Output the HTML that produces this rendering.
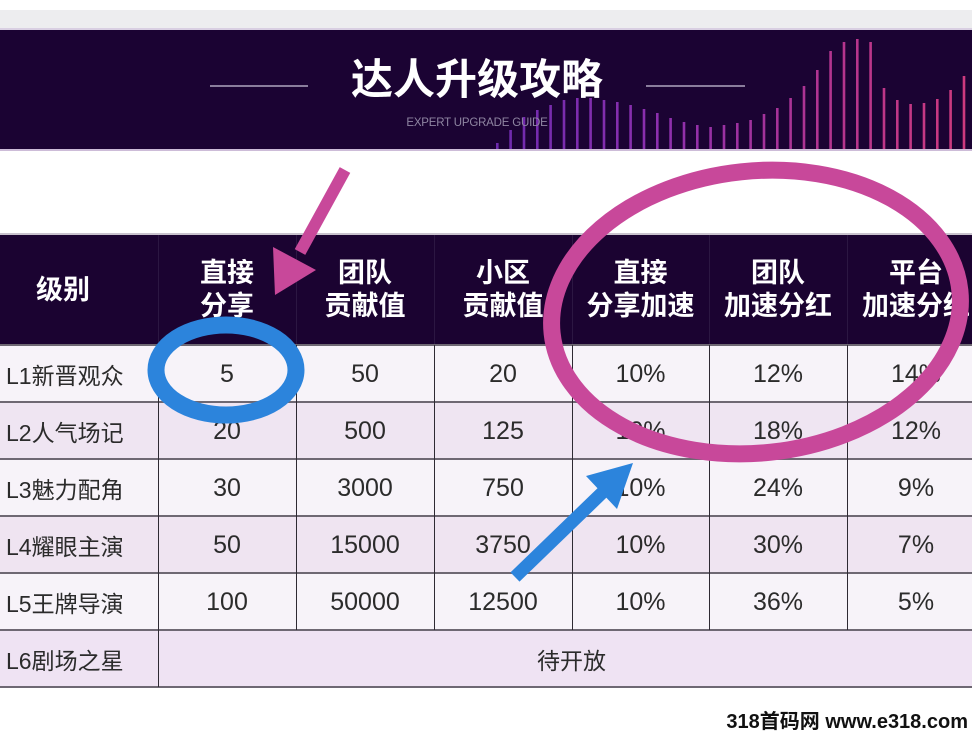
<!DOCTYPE html>
<html>
<head>
<meta charset="utf-8">
<style>
  html,body{margin:0;padding:0;}
  body{width:972px;height:739px;overflow:hidden;background:#ffffff;position:relative;
       font-family:"Liberation Sans","Noto Sans CJK SC",sans-serif;}
  .abs{position:absolute;}
  .cell{position:absolute;display:flex;align-items:center;justify-content:center;
        color:#2b2b2b;font-size:25px;}
  .lvl{position:absolute;display:flex;align-items:center;justify-content:flex-start;
       color:#2b2b2b;font-size:23px;padding-left:6px;box-sizing:border-box;}
  .hd{position:absolute;display:flex;flex-direction:column;align-items:center;justify-content:center;
      color:#ffffff;font-weight:bold;font-size:27px;line-height:33px;white-space:nowrap;
      font-family:"Liberation Sans","Noto Sans CJK SC",sans-serif;}
  .hl{position:absolute;left:0;width:972px;height:2px;background:#6e6873;}
  .vl{position:absolute;width:1px;background:#2e2a33;}
</style>
</head>
<body>

<!-- top gray band -->
<div class="abs" style="left:0;top:10px;width:972px;height:18px;background:#ededef;"></div>
<div class="abs" style="left:0;top:28px;width:972px;height:2px;background:#d9cfe2;"></div>
<!-- banner -->
<div class="abs" style="left:0;top:30px;width:972px;height:119px;background:#1b0333;"></div>
<div class="abs" style="left:0;top:149px;width:972px;height:2px;background:#cdbcd8;"></div>

<!-- bars -->
<svg class="abs" style="left:0;top:0;" width="972" height="151" viewBox="0 0 972 151">
  <defs>
    <linearGradient id="bg" x1="497" y1="0" x2="972" y2="0" gradientUnits="userSpaceOnUse">
      <stop offset="0" stop-color="#6e2aae"/>
      <stop offset="0.35" stop-color="#8d2fae"/>
      <stop offset="0.7" stop-color="#b3348f"/>
      <stop offset="1" stop-color="#cf3a7e"/>
    </linearGradient>
  </defs>
  <g fill="url(#bg)">
    <rect x="496" y="143" width="2.6" height="6"/>
    <rect x="509.3" y="130" width="2.6" height="19"/>
    <rect x="522.7" y="117" width="2.6" height="32"/>
    <rect x="536" y="110" width="2.6" height="39"/>
    <rect x="549.3" y="105" width="2.6" height="44"/>
    <rect x="562.7" y="100" width="2.6" height="49"/>
    <rect x="576" y="98" width="2.6" height="51"/>
    <rect x="589.3" y="98" width="2.6" height="51"/>
    <rect x="602.7" y="100" width="2.6" height="49"/>
    <rect x="616" y="102" width="2.6" height="47"/>
    <rect x="629.3" y="105" width="2.6" height="44"/>
    <rect x="642.7" y="109" width="2.6" height="40"/>
    <rect x="656" y="113" width="2.6" height="36"/>
    <rect x="669.3" y="118" width="2.6" height="31"/>
    <rect x="682.7" y="122" width="2.6" height="27"/>
    <rect x="696" y="125" width="2.6" height="24"/>
    <rect x="709.3" y="127" width="2.6" height="22"/>
    <rect x="722.7" y="125" width="2.6" height="24"/>
    <rect x="736" y="123" width="2.6" height="26"/>
    <rect x="749.3" y="120" width="2.6" height="29"/>
    <rect x="762.7" y="114" width="2.6" height="35"/>
    <rect x="776" y="108" width="2.6" height="41"/>
    <rect x="789.3" y="98" width="2.6" height="51"/>
    <rect x="802.7" y="86" width="2.6" height="63"/>
    <rect x="816" y="70" width="2.6" height="79"/>
    <rect x="829.3" y="51" width="2.6" height="98"/>
    <rect x="842.7" y="42" width="2.6" height="107"/>
    <rect x="856" y="39" width="2.6" height="110"/>
    <rect x="869.3" y="42" width="2.6" height="107"/>
    <rect x="882.7" y="88" width="2.6" height="61"/>
    <rect x="896" y="100" width="2.6" height="49"/>
    <rect x="909.3" y="104" width="2.6" height="45"/>
    <rect x="922.7" y="103" width="2.6" height="46"/>
    <rect x="936" y="99" width="2.6" height="50"/>
    <rect x="949.3" y="90" width="2.6" height="59"/>
    <rect x="962.7" y="76" width="2.6" height="73"/>
  </g>
  <!-- side lines -->
  <rect x="210" y="85" width="98" height="2" fill="#8a7d9c"/>
  <rect x="646" y="85" width="99" height="2" fill="#8a7d9c"/>
</svg>

<!-- title -->
<div class="abs" style="left:277px;top:58px;width:400px;height:44px;text-align:center;color:#ffffff;font-weight:bold;font-size:42px;line-height:44px;font-family:'Liberation Sans','Noto Sans CJK SC',sans-serif;">达人升级攻略</div>
<div class="abs" style="left:377px;top:116px;width:200px;height:14px;text-align:center;color:#8f86a2;font-size:11.5px;line-height:14px;letter-spacing:-0.2px;">EXPERT UPGRADE GUIDE</div>

<!-- table header -->
<div class="abs" style="left:0;top:233px;width:972px;height:2px;background:#c9c3cd;"></div>
<div class="abs" style="left:0;top:235px;width:972px;height:110px;background:#1b0331;"></div>
<div class="abs" style="left:158px;top:235px;width:1px;height:110px;background:#2c1742;"></div>
<div class="abs" style="left:296px;top:235px;width:1px;height:110px;background:#2c1742;"></div>
<div class="abs" style="left:434px;top:235px;width:1px;height:110px;background:#2c1742;"></div>
<div class="abs" style="left:572px;top:235px;width:1px;height:110px;background:#2c1742;"></div>
<div class="abs" style="left:709px;top:235px;width:1px;height:110px;background:#2c1742;"></div>
<div class="abs" style="left:847px;top:235px;width:1px;height:110px;background:#2c1742;"></div>

<div class="hd" style="left:0;top:235px;width:126px;height:110px;">级别</div>
<div class="hd" style="left:158px;top:235px;width:138px;height:110px;"><span>直接</span><span>分享</span></div>
<div class="hd" style="left:296px;top:235px;width:138px;height:110px;"><span>团队</span><span>贡献值</span></div>
<div class="hd" style="left:434px;top:235px;width:138px;height:110px;"><span>小区</span><span>贡献值</span></div>
<div class="hd" style="left:572px;top:235px;width:137px;height:110px;"><span>直接</span><span>分享加速</span></div>
<div class="hd" style="left:709px;top:235px;width:138px;height:110px;"><span>团队</span><span>加速分红</span></div>
<div class="hd" style="left:847px;top:235px;width:138px;height:110px;"><span>平台</span><span>加速分红</span></div>

<!-- row backgrounds -->
<div class="abs" style="left:0;top:345px;width:972px;height:57px;background:#f7f3f9;"></div>
<div class="abs" style="left:0;top:402px;width:972px;height:57px;background:#efe5f2;"></div>
<div class="abs" style="left:0;top:459px;width:972px;height:57px;background:#f7f3f9;"></div>
<div class="abs" style="left:0;top:516px;width:972px;height:57px;background:#efe4f1;"></div>
<div class="abs" style="left:0;top:573px;width:972px;height:57px;background:#f7f3f9;"></div>
<div class="abs" style="left:0;top:630px;width:972px;height:57px;background:#efe3f3;"></div>

<!-- grid lines -->
<div class="hl" style="top:344px;"></div>
<div class="hl" style="top:401px;"></div>
<div class="hl" style="top:458px;"></div>
<div class="hl" style="top:515px;"></div>
<div class="hl" style="top:572px;"></div>
<div class="hl" style="top:629px;"></div>
<div class="hl" style="top:686px;"></div>
<div class="vl" style="left:158px;top:345px;height:342px;"></div>
<div class="vl" style="left:296px;top:345px;height:285px;"></div>
<div class="vl" style="left:434px;top:345px;height:285px;"></div>
<div class="vl" style="left:572px;top:345px;height:285px;"></div>
<div class="vl" style="left:709px;top:345px;height:285px;"></div>
<div class="vl" style="left:847px;top:345px;height:285px;"></div>

<!-- row 1 -->
<div class="lvl" style="left:0;top:346px;width:158px;height:56px;">L1新晋观众</div>
<div class="cell" style="left:158px;top:346px;width:138px;height:56px;">5</div>
<div class="cell" style="left:296px;top:346px;width:138px;height:56px;">50</div>
<div class="cell" style="left:434px;top:346px;width:138px;height:56px;">20</div>
<div class="cell" style="left:572px;top:346px;width:137px;height:56px;">10%</div>
<div class="cell" style="left:709px;top:346px;width:138px;height:56px;">12%</div>
<div class="cell" style="left:847px;top:346px;width:138px;height:56px;">14%</div>
<!-- row 2 -->
<div class="lvl" style="left:0;top:403px;width:158px;height:56px;">L2人气场记</div>
<div class="cell" style="left:158px;top:403px;width:138px;height:56px;">20</div>
<div class="cell" style="left:296px;top:403px;width:138px;height:56px;">500</div>
<div class="cell" style="left:434px;top:403px;width:138px;height:56px;">125</div>
<div class="cell" style="left:572px;top:403px;width:137px;height:56px;">10%</div>
<div class="cell" style="left:709px;top:403px;width:138px;height:56px;">18%</div>
<div class="cell" style="left:847px;top:403px;width:138px;height:56px;">12%</div>
<!-- row 3 -->
<div class="lvl" style="left:0;top:460px;width:158px;height:56px;">L3魅力配角</div>
<div class="cell" style="left:158px;top:460px;width:138px;height:56px;">30</div>
<div class="cell" style="left:296px;top:460px;width:138px;height:56px;">3000</div>
<div class="cell" style="left:434px;top:460px;width:138px;height:56px;">750</div>
<div class="cell" style="left:572px;top:460px;width:137px;height:56px;">10%</div>
<div class="cell" style="left:709px;top:460px;width:138px;height:56px;">24%</div>
<div class="cell" style="left:847px;top:460px;width:138px;height:56px;">9%</div>
<!-- row 4 -->
<div class="lvl" style="left:0;top:517px;width:158px;height:56px;">L4耀眼主演</div>
<div class="cell" style="left:158px;top:517px;width:138px;height:56px;">50</div>
<div class="cell" style="left:296px;top:517px;width:138px;height:56px;">15000</div>
<div class="cell" style="left:434px;top:517px;width:138px;height:56px;">3750</div>
<div class="cell" style="left:572px;top:517px;width:137px;height:56px;">10%</div>
<div class="cell" style="left:709px;top:517px;width:138px;height:56px;">30%</div>
<div class="cell" style="left:847px;top:517px;width:138px;height:56px;">7%</div>
<!-- row 5 -->
<div class="lvl" style="left:0;top:574px;width:158px;height:56px;">L5王牌导演</div>
<div class="cell" style="left:158px;top:574px;width:138px;height:56px;">100</div>
<div class="cell" style="left:296px;top:574px;width:138px;height:56px;">50000</div>
<div class="cell" style="left:434px;top:574px;width:138px;height:56px;">12500</div>
<div class="cell" style="left:572px;top:574px;width:137px;height:56px;">10%</div>
<div class="cell" style="left:709px;top:574px;width:138px;height:56px;">36%</div>
<div class="cell" style="left:847px;top:574px;width:138px;height:56px;">5%</div>
<!-- row 6 -->
<div class="lvl" style="left:0;top:631px;width:158px;height:56px;">L6剧场之星</div>
<div class="cell" style="left:158px;top:631px;width:827px;height:56px;font-size:23px;">待开放</div>

<!-- watermark -->
<div class="abs" style="left:700px;top:708px;width:268px;height:28px;text-align:right;font-weight:bold;font-size:20px;line-height:28px;color:#111;white-space:nowrap;">318首码网 www.e318.com</div>

<!-- annotations -->
<svg class="abs" style="left:0;top:0;" width="972" height="739" viewBox="0 0 972 739">
  <!-- pink ellipse -->
  <ellipse cx="756" cy="312" rx="205" ry="141" transform="rotate(-6 756 312)" fill="none" stroke="#c8489a" stroke-width="17"/>
  <!-- blue ellipse -->
  <ellipse cx="226" cy="370" rx="70" ry="45" fill="none" stroke="#2c84dc" stroke-width="17"/>
  <!-- pink arrow -->
  <line x1="345" y1="170" x2="300" y2="252" stroke="#c8489a" stroke-width="12"/>
  <polygon points="275,295 273,247 316,270" fill="#c8489a"/>
  <!-- blue arrow -->
  <line x1="515" y1="577" x2="605" y2="490" stroke="#2c84dc" stroke-width="13"/>
  <polygon points="633,463 586,476 617,509" fill="#2c84dc"/>
</svg>

</body>
</html>
